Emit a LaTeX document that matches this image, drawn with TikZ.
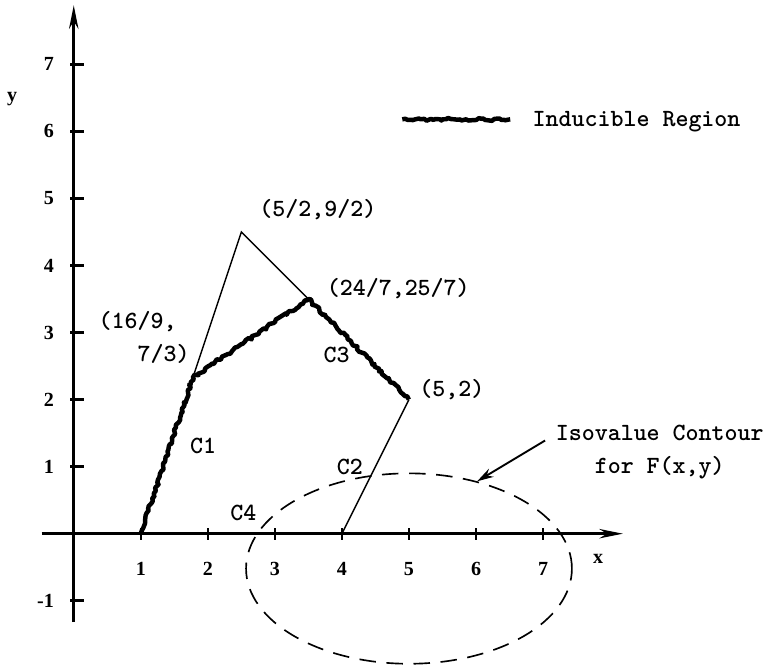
\documentclass[tikz,border=0pt]{standalone}
\usepackage{fontspec}
\newfontfamily\tickfont{Liberation Serif}
\usetikzlibrary{arrows.meta,shapes.geometric}
\usetikzlibrary{decorations.pathmorphing}

\begin{document}
\pgfmathsetseed{11}
\begin{tikzpicture}[>={Stealth[length=10pt,width=4pt]},
  font=\ttfamily\bfseries\fontsize{10.5}{14}\selectfont, %
  axis/.style={line width=1.1pt},
  edge line/.style={line width=0.6pt},
  tick label/.style={font=\tickfont\bfseries\fontsize{8.5}{10}\selectfont},%
  inducible/.style={line width=1.9pt,line join=round,decorate,
  decoration={random steps,segment length=1.1pt,amplitude=0.65pt}},
  contour/.style={draw,ellipse,line width=0.7pt,dash pattern=on 7pt off 4.5pt,
  inner sep=0pt,minimum width=4.86cm,minimum height=2.84cm}]
\useasboundingbox (-1.10,-1.99) rectangle (10.34,7.96);
% axes
\coordinate (xs) at (-0.48,0);
\coordinate (xe) at (8.19,0);
\coordinate (ys) at (0,-1.32);
\coordinate (ye) at (0,7.88);
\draw[axis,->] (xs) -- (xe);
\draw[axis,->] (ys) -- (ye);
\foreach \i in {1,...,7} {
  \draw[axis] (\i,-0.09) -- (\i,0.09);
  \node[tick label] (xt\i) at (\i,-0.52) {\i};
}
\foreach \i in {-1,1,2,3,4,5,6,7} {
  \draw[axis] (-0.05,\i) -- (0.15,\i);
  \node[tick label,anchor=east,inner sep=0pt] (yt\i) at (-0.29,\i) {\i};
}
\node[tick label] (xl) at (7.82,-0.38) {x};
\node[tick label] (yl) at (-0.92,6.48) {y};
% region
\coordinate (A) at (1,0);
\coordinate (B) at (16/9,7/3);
\coordinate (T) at (5/2,9/2);
\coordinate (D) at (3.5,3.5);
\coordinate (E) at (5,2);
\coordinate (F) at (4,0);
\draw[edge line] (B) -- (T) -- (D);
\draw[edge line] (E) -- (F);
\draw[inducible] (A) -- (B) -- (D) -- (E);
\node (lT) at (3.64,4.84) {(5/2,9/2)};
\node (lD) at (4.84,3.66) {(24/7,25/7)};
\node (lE) at (5.64,2.15) {(5,2)};
\node[align=left] (lB) at (1.05,2.92) {(16/9,\\\hphantom{(16}7/3)};
\node (c1) at (1.93,1.31) {C1};
\node (c2) at (4.12,0.99) {C2};
\node (c3) at (3.92,2.66) {C3};
\node (c4) at (2.53,0.31) {C4};
% legend
\coordinate (legA) at (4.9,6.18);
\coordinate (legB) at (6.51,6.18);
\draw[inducible] (legA) -- (legB);
\node[anchor=west] (leg) at (6.72,6.15) {Inducible Region};
% contour
\node[contour] (iso) at (5,-0.52) {};
\node[align=center] (isoL) at (8.74,1.22) {Isovalue Contour\\for F(x,y)};
\coordinate (isoS) at (7.03,1.39);
\draw[line width=0.8pt,-{Stealth[length=7pt,width=4pt]}] (isoS) -- (iso.52);
\end{tikzpicture}
\end{document}
